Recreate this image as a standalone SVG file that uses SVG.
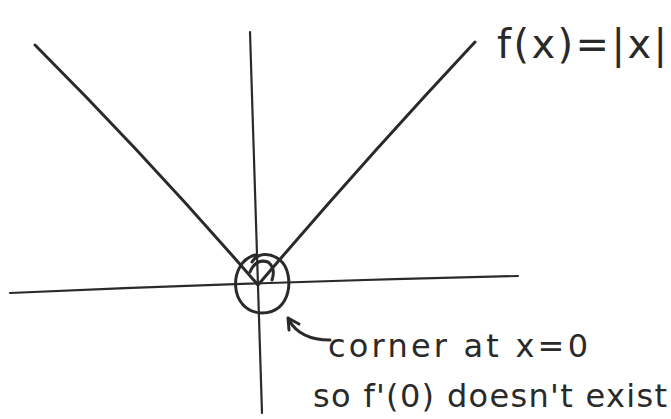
<svg xmlns="http://www.w3.org/2000/svg" width="671" height="419" viewBox="0 0 671 419">
<style>
.ink{fill:none;stroke:#2a2a2a;stroke-width:3;stroke-linecap:round;stroke-linejoin:round}
.thin{stroke-width:2.2}
.t{font-family:"DejaVu Sans","Liberation Sans",sans-serif;fill:#2a2a2a}
</style>
<rect width="671" height="419" fill="#fff"/>
<g id="axes">
<path class="ink thin" d="M10,293 Q260,282 518,276"/>
<path class="ink thin" d="M250,32 Q256,220 262,413"/>
</g>
<g id="graph">
<path class="ink" d="M35,45 Q150,160 258,285 Q360,165 475,42"/>
</g>
<g id="corner">
<path class="ink" d="M255,255 C228,262 228,312 262,313 C292,313 294,275 282,262 C272,252 258,252 252,262"/>
<path class="ink" d="M250,272 Q256,258 268,262 Q276,268 272,280"/>
</g>
<g id="connectors">
<path class="ink" d="M330,340 Q300,340 289,320"/>
<path class="ink" d="M288,318 L289,330 M288,318 L299,324"/>
</g>
<g id="labels">
<text class="t" x="497" y="58" font-size="40" textLength="170">f(x)=|x|</text>
<text class="t" x="328" y="357" font-size="32" textLength="260">corner at x=0</text>
<text class="t" x="313" y="407" font-size="32" textLength="354">so f'(0) doesn't exist</text>
</g>
</svg>
